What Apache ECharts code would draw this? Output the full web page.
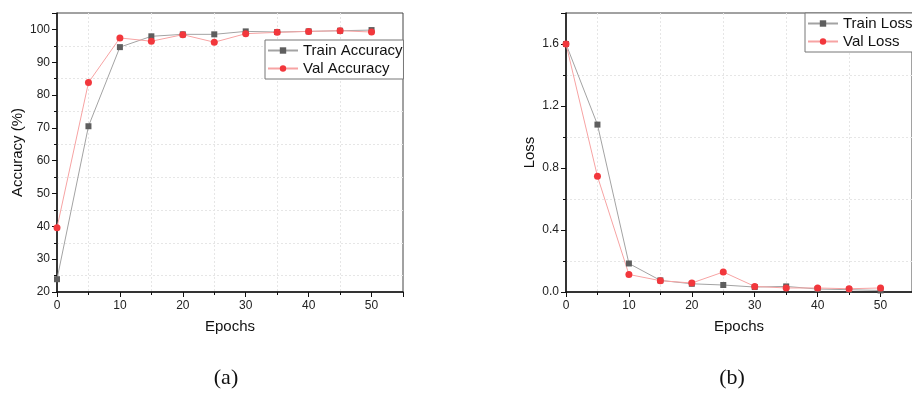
<!DOCTYPE html>
<html>
<head>
<meta charset="utf-8">
<script src="https://cdn.jsdelivr.net/npm/echarts@6/dist/echarts.min.js"></script>
<style>
  html, body { margin: 0; padding: 0; background: #fff; }
  #echart { width: 912px; height: 394px; }
</style>
</head>
<body>
<div id="echart"></div>
<script>
const epochs = [0, 5, 10, 15, 20, 25, 30, 35, 40, 45, 50];
const trainAcc = [23.9, 70.5, 94.6, 97.9, 98.5, 98.5, 99.4, 99.2, 99.4, 99.6, 99.8];
const valAcc = [39.6, 83.8, 97.4, 96.4, 98.4, 96.1, 98.7, 99.1, 99.4, 99.6, 99.2];
const trainLoss = [1.6, 1.08, 0.184, 0.075, 0.053, 0.045, 0.032, 0.036, 0.019, 0.015, 0.01];
const valLoss = [1.6, 0.746, 0.113, 0.073, 0.058, 0.129, 0.036, 0.026, 0.026, 0.021, 0.026];

const FONT = 'Liberation Sans';
const GRAY_MARK = '#5e5e5e';
const GRAY_LINE = '#a3a3a3';
const RED_MARK = '#f2373c';
const RED_LINE = '#f7a3a3';

const pairs = (ys) => epochs.map((x, i) => [x, ys[i]]);

// shared axis look: black axis line, outward ticks, grid only at the minor ticks
const axisBase = {
  type: 'value',
  axisLine: { show: true, lineStyle: { color: '#111', width: 1.5 } },
  axisTick: { show: true, inside: false, length: 5, lineStyle: { color: '#111', width: 1 } },
  minorTick: { show: true, splitNumber: 2, length: 3, lineStyle: { color: '#111', width: 1 } },
  splitLine: { show: false },
  minorSplitLine: { show: true, lineStyle: { color: '#e6e6e6', width: 1, type: [2, 2] } },
  axisLabel: { color: '#222', fontSize: 12, fontFamily: FONT, showMaxLabel: false },
  nameLocation: 'middle',
  nameTextStyle: { color: '#111', fontSize: 15, fontFamily: FONT },
};

const xAxis = (gridIndex) => ({
  ...axisBase,
  gridIndex,
  min: 0,
  max: 55,
  interval: 10,
  name: 'Epochs',
  nameGap: 27,
  axisLabel: { ...axisBase.axisLabel, margin: 8 },
});

const legendBase = {
  orient: 'vertical',
  itemWidth: 30,
  itemHeight: 8,
  itemGap: 3,
  padding: [3, 1, 3, 2],
  borderColor: '#777',
  borderWidth: 1,
  backgroundColor: '#fff',
  textStyle: { color: '#111', fontSize: 15, fontFamily: FONT, lineHeight: 15 },
};

const lineSeries = (name, ys, idx, symbol, size, markColor, lineColor) => ({
  name,
  type: 'line',
  xAxisIndex: idx,
  yAxisIndex: idx,
  data: pairs(ys),
  symbol,
  symbolSize: size,
  showAllSymbol: true,
  itemStyle: { color: markColor },
  lineStyle: { color: lineColor, width: 1 },
  emphasis: { disabled: true },
});

const myChart = echarts.init(document.getElementById('echart'));
myChart.setOption({
  animation: false,
  title: [
    { text: '(a)', left: 221, top: 362, textAlign: 'center',
      textStyle: { fontFamily: 'Liberation Serif', fontWeight: 'normal', fontSize: 22, color: '#111' } },
    { text: '(b)', left: 727, top: 362, textAlign: 'center',
      textStyle: { fontFamily: 'Liberation Serif', fontWeight: 'normal', fontSize: 22, color: '#111' } },
  ],
  grid: [
    { left: 57, top: 13, width: 346, height: 279, show: true, borderColor: '#444', borderWidth: 1 },
    { left: 566, top: 13, width: 348, height: 279, show: true, borderColor: '#444', borderWidth: 1 },
  ],
  legend: [
    { ...legendBase, left: 265, top: 40, data: ['Train Accuracy', 'Val Accuracy'] },
    { ...legendBase, left: 805, top: 13, data: ['Train Loss', 'Val Loss'] },
  ],
  xAxis: [xAxis(0), xAxis(1)],
  yAxis: [
    {
      ...axisBase,
      gridIndex: 0,
      min: 20,
      max: 105,
      interval: 10,
      name: 'Accuracy (%)',
      nameGap: 32,
      axisLabel: { ...axisBase.axisLabel, margin: 7 },
    },
    {
      ...axisBase,
      gridIndex: 1,
      min: 0,
      max: 1.8,
      interval: 0.4,
      name: 'Loss',
      nameGap: 29,
      axisLabel: { ...axisBase.axisLabel, margin: 7, formatter: (v) => v.toFixed(1) },
    },
  ],
  series: [
    lineSeries('Train Accuracy', trainAcc, 0, 'rect', 6, GRAY_MARK, GRAY_LINE),
    lineSeries('Val Accuracy', valAcc, 0, 'circle', 7, RED_MARK, RED_LINE),
    lineSeries('Train Loss', trainLoss, 1, 'rect', 6, GRAY_MARK, GRAY_LINE),
    lineSeries('Val Loss', valLoss, 1, 'circle', 7, RED_MARK, RED_LINE),
  ],
});
</script>
</body>
</html>
